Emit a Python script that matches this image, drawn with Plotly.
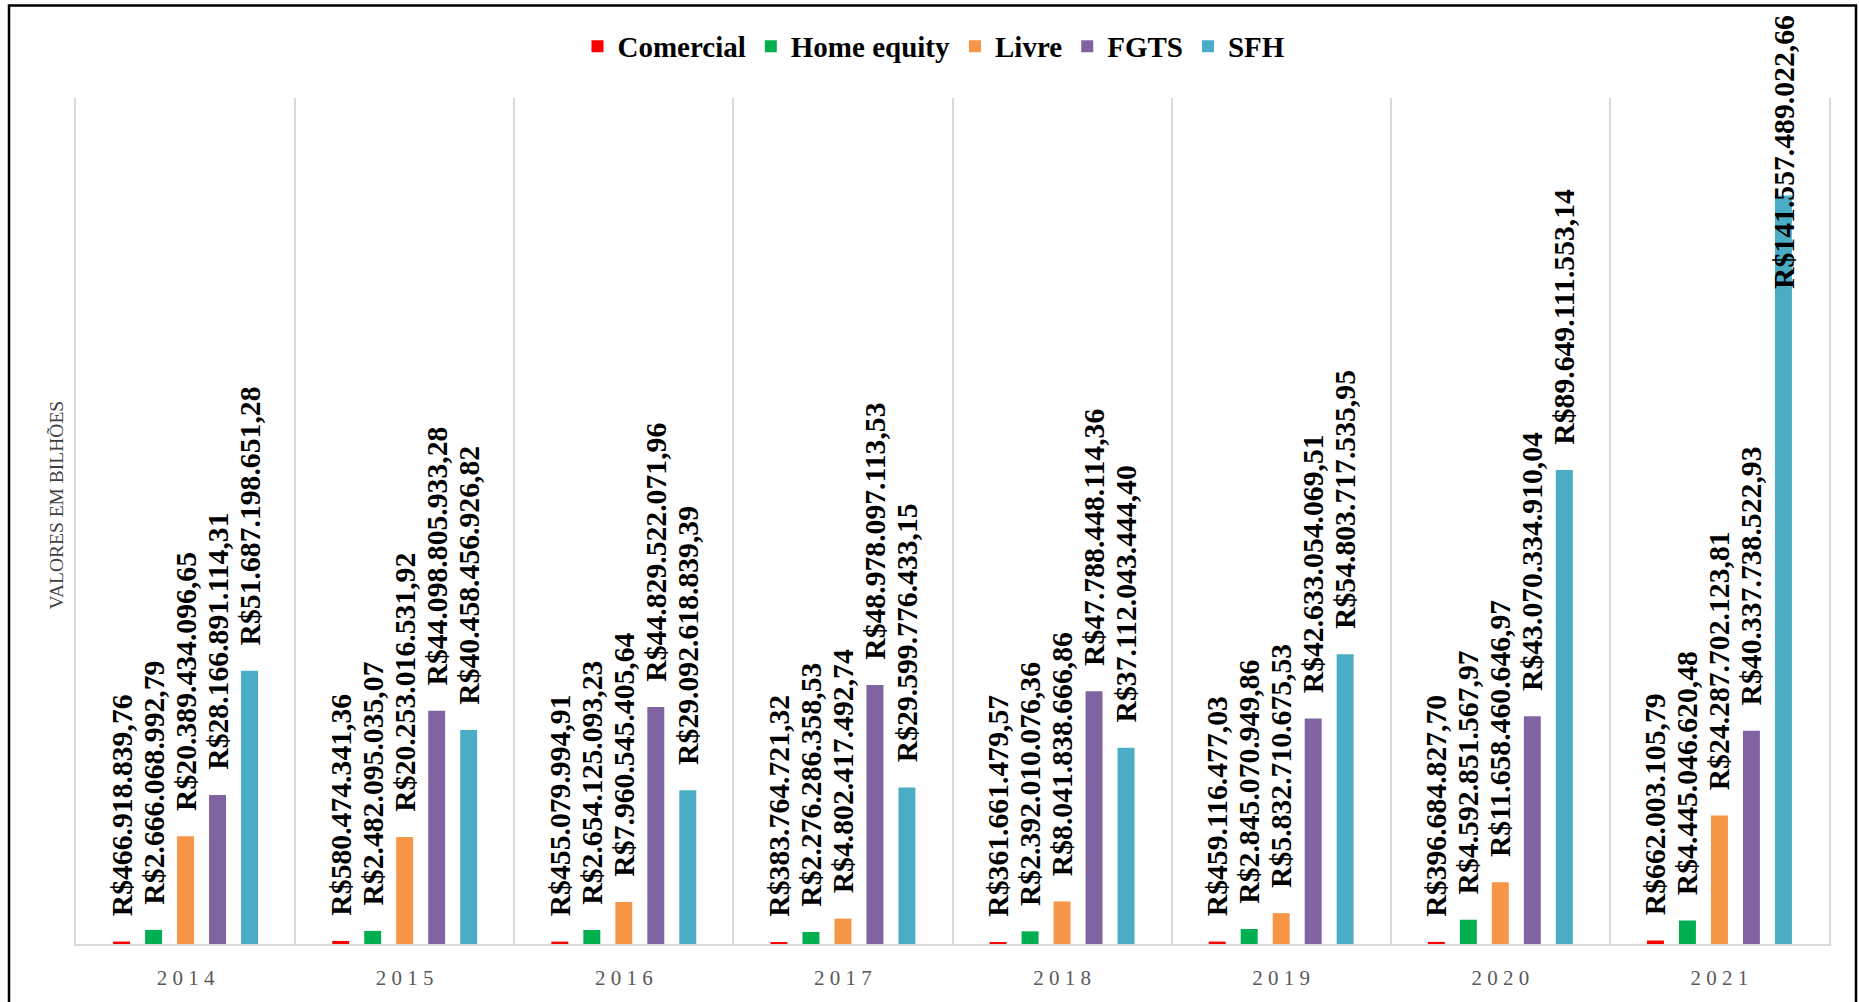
import plotly.graph_objects as go

years = ["2014", "2015", "2016", "2017", "2018", "2019", "2020", "2021"]
series_names = ["Comercial", "Home equity", "Livre", "FGTS", "SFH"]
colors = ["#FF0000", "#00B050", "#F79646", "#8064A2", "#4BACC6"]

comercial = [466918839.76, 580474341.36, 455079994.91, 383764721.32,
             361661479.57, 459116477.03, 396684827.70, 662003105.79]
home_equity = [2666068992.79, 2482095035.07, 2654125093.23, 2276286358.53,
               2392010076.36, 2845070949.86, 4592851567.97, 4445046620.48]
livre = [20389434096.65, 20253016531.92, 7960545405.64, 4802417492.74,
         8041838666.86, 5832710675.53, 11658460646.97, 24287702123.81]
fgts = [28166891114.31, 44098805933.28, 44829522071.96, 48978097113.53,
        47788448114.36, 42633054069.51, 43070334910.04, 40337738522.93]
sfh = [51687198651.28, 40458456926.82, 29092618839.39, 29599776433.15,
       37112043444.40, 54803717535.95, 89649111553.14, 141557489022.66]

all_series = [comercial, home_equity, livre, fgts, sfh]

LABEL_FONT = dict(family="Liberation Serif", size=29.7, color="black")
BARGAP = 0.27
BARGROUPGAP = 0.47
YMAX = 160


def brl(v):
    s = f"{v:,.2f}"
    s = s.replace(",", "#").replace(".", ",").replace("#", ".")
    return "R$" + s


fig = go.Figure()
annotations = []
pad = "\u00a0\u00a0\u00a0"
group_w = 1 - BARGAP
slot = group_w / len(all_series)

for si, (name, vals, col) in enumerate(zip(series_names, all_series, colors)):
    yv = [v / 1e9 for v in vals]
    texts = []
    for xi, v in enumerate(vals):
        lab = brl(v)
        if v / 1e9 > 0.78 * YMAX:
            # label would leave the chart: placed so it fits, overlapping bar end
            texts.append("")
            annotations.append(dict(
                x=xi - group_w / 2 + (si + 0.5) * slot, xref="x",
                y=v / 1e9, yref="y", yanchor="bottom", yshift=-95,
                text="<b>" + lab + "</b>", textangle=-90, showarrow=False,
                font=LABEL_FONT))
        else:
            texts.append("<b>" + pad + lab + "</b>")
    fig.add_trace(go.Bar(
        name=name, x=years, y=yv, marker_color=col,
        marker_line_width=0,
        text=texts, textposition="outside", textangle=-90,
        constraintext="none", cliponaxis=False,
        textfont=LABEL_FONT, hoverinfo="skip"))

W, H = 1859, 1002
L, R, T, B = 76, 30, 98, 53
pw, ph = W - L - R, H - T - B

# y-axis title
annotations.append(dict(
    x=(57 - L) / pw, xref="paper", y=(H - B - 508) / ph, yref="paper",
    text="VALORES EM BILHÕES", textangle=-90, showarrow=False,
    font=dict(family="Liberation Serif", size=19.5, color="#404040"),
    xanchor="center", yanchor="middle"))

fig.update_layout(
    width=W, height=H,
    margin=dict(l=L, r=R, t=T, b=B, pad=0),
    paper_bgcolor="white", plot_bgcolor="white",
    barmode="group", bargap=BARGAP, bargroupgap=BARGROUPGAP,
    showlegend=True,
    legend=dict(orientation="h", x=(934 - L) / pw, xanchor="center",
                y=1 + (T - 46) / ph, yanchor="middle",
                font=dict(family="Liberation Serif", size=29, color="black",
                          weight="bold"),
                itemclick=False, itemdoubleclick=False, traceorder="normal"),
    xaxis=dict(type="category", tickson="boundaries", showgrid=True,
               gridcolor="#D9D9D9", gridwidth=1.5,
               showline=True, linecolor="#D9D9D9", linewidth=2,
               ticks="", tickmode="array", tickvals=years,
               ticktext=[" ".join(y) for y in years],
               tickfont=dict(family="Liberation Serif", size=21, color="#595959"),
               ticklabelstandoff=14, fixedrange=True),
    yaxis=dict(range=[0, YMAX], showticklabels=False, showgrid=False,
               zeroline=False, showline=True, mirror=True,
               linecolor="#D9D9D9", linewidth=1.5, ticks="", fixedrange=True),
    annotations=annotations,
    shapes=[dict(type="rect", xref="paper", yref="paper",
                 x0=(9 - L) / pw, x1=(1856 - L) / pw,
                 y0=-0.2, y1=1 + (T - 5) / ph,
                 line=dict(color="black", width=2.5), fillcolor="rgba(0,0,0,0)",
                 layer="above")],
)

fig.write_html("out.html", config={"displayModeBar": False},
               post_script="document.body.style.margin='0';")
